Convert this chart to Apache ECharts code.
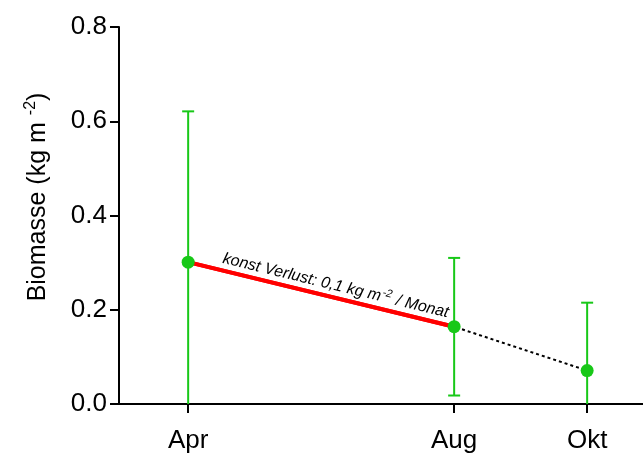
<!DOCTYPE html>
<html>
<head>
<meta charset="utf-8">
<script src="https://cdn.jsdelivr.net/npm/echarts@6/dist/echarts.min.js"></script>
<style>
html,body{margin:0;padding:0;background:#fff;}
#chart{width:643px;height:460px;}
</style>
</head>
<body>
<div id="chart"></div>
<script>
// ---- data ----
const months = ['Apr', 'Aug', 'Okt'];
const monthNum = [4, 8, 10];
const biomass = [0.301, 0.164, 0.071];
const errPlusMinus = [0.32, 0.146, 0.144];
const yTicks = [0, 0.2, 0.4, 0.6, 0.8];
const lossLabel = 'konst Verlust: 0,1 kg m';
const lossUnit = ' / Monat';

const pts = monthNum.map((m, i) => [m, biomass[i]]);
const errData = monthNum.map((m, i) => [m, biomass[i] - errPlusMinus[i], biomass[i] + errPlusMinus[i]]);
const GREEN = '#18c818';
const FONT = 'Liberation Sans';

const chart = echarts.init(document.getElementById('chart'), null, {renderer: 'canvas'});
chart.setOption({
  animation: false,
  backgroundColor: '#fff',
  grid: {left: 119, right: 0, top: 27, bottom: 56, containLabel: false},
  xAxis: {
    type: 'value', min: 2.96, max: 10.84,
    splitLine: {show: false},
    axisLine: {show: true, lineStyle: {color: '#000', width: 2}},
    axisTick: {show: true, customValues: monthNum, length: 9, lineStyle: {color: '#000', width: 2}},
    axisLabel: {
      customValues: monthNum, margin: 24,
      formatter: v => months[monthNum.indexOf(Math.round(v))] || '',
      fontFamily: FONT, fontSize: 26, color: '#000'
    }
  },
  yAxis: {
    type: 'value', min: 0, max: 0.8, interval: 0.2,
    splitLine: {show: false},
    axisLine: {show: true, lineStyle: {color: '#000', width: 2}},
    axisTick: {show: true, length: 9, lineStyle: {color: '#000', width: 2}},
    axisLabel: {
      margin: 12,
      formatter: v => yTicks.includes(Math.round(v * 10) / 10) ? v.toFixed(1) : '',
      fontFamily: FONT, fontSize: 26, color: '#000'
    }
  },
  graphic: [{
    type: 'text',
    x: 37, y: 197, rotation: Math.PI / 2,
    style: {
      text: '{a|Biomasse (kg m }{s|-2}{a|)}',
      align: 'center', verticalAlign: 'middle',
      rich: {
        a: {fontFamily: FONT, fontSize: 25, fill: '#000', verticalAlign: 'bottom'},
        s: {fontFamily: FONT, fontSize: 16, fill: '#000', verticalAlign: 'top', padding: [0, 0, 12, 0]}
      }
    }
  }],
  series: [
    {
      type: 'custom',
      z: 2,
      data: errData,
      renderItem: function (params, api) {
        const x = api.value(0);
        const lo = Math.max(api.value(1), 0);
        const hi = api.value(2);
        const pLo = api.coord([x, lo]);
        const pHi = api.coord([x, hi]);
        const cap = 6;
        const st = {stroke: GREEN, lineWidth: 2, fill: null};
        const children = [
          {type: 'line', shape: {x1: pLo[0], y1: pLo[1], x2: pHi[0], y2: pHi[1]}, style: st},
          {type: 'line', shape: {x1: pHi[0] - cap, y1: pHi[1], x2: pHi[0] + cap, y2: pHi[1]}, style: st}
        ];
        if (api.value(1) > 0) {
          children.push({type: 'line', shape: {x1: pLo[0] - cap, y1: pLo[1], x2: pLo[0] + cap, y2: pLo[1]}, style: st});
        }
        return {type: 'group', children: children};
      }
    },
    {
      type: 'line',
      z: 3,
      data: pts,
      showSymbol: false,
      symbol: 'none',
      lineStyle: {color: '#000', width: 2, type: [3, 3]}
    },
    {
      type: 'line',
      z: 4,
      data: pts.slice(0, 2),
      showSymbol: false,
      symbol: 'none',
      lineStyle: {color: '#ff0000', width: 4},
      markLine: {
        silent: true,
        symbol: 'none',
        lineStyle: {color: '#ff0000', width: 4, type: 'solid'},
        label: {
          show: true,
          position: 'insideMiddleTop',
          distance: 4,
          offset: [13, 0],
          formatter: '{t|' + lossLabel + '}{s|-2}{t|' + lossUnit + '}',
          rich: {
            t: {fontFamily: FONT, fontStyle: 'italic', fontSize: 16, color: '#000', verticalAlign: 'bottom'},
            s: {fontFamily: FONT, fontStyle: 'italic', fontSize: 11, color: '#000', verticalAlign: 'top', padding: [0, 1, 7, 1]}
          }
        },
        data: [[{coord: pts[0]}, {coord: pts[1]}]]
      }
    },
    {
      type: 'scatter',
      z: 5,
      data: pts,
      symbol: 'circle',
      symbolSize: 13,
      itemStyle: {color: GREEN, opacity: 1}
    }
  ]
});
</script>
</body>
</html>
